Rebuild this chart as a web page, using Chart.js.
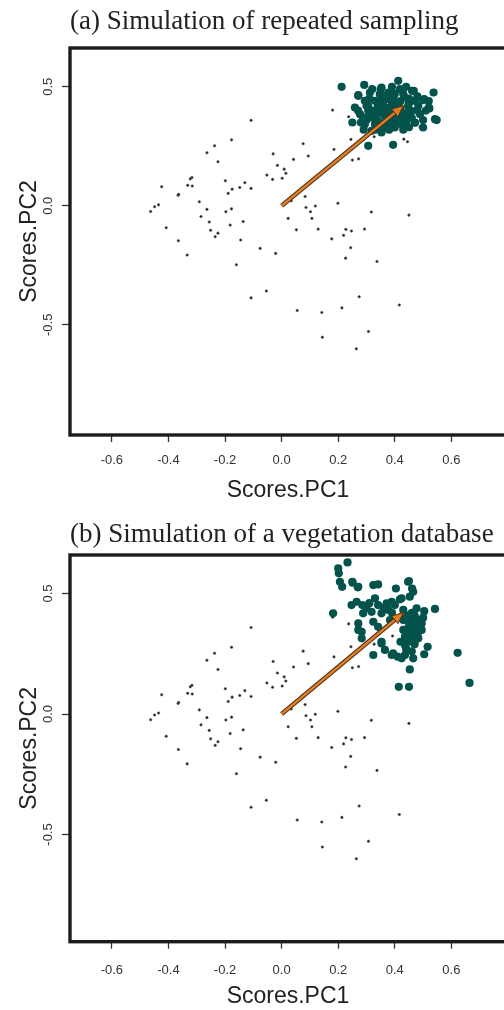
<!DOCTYPE html>
<html>
<head>
<meta charset="utf-8">
<script src="https://cdn.jsdelivr.net/npm/chart.js@4.4.1/dist/chart.umd.min.js"></script>
<style>
  html, body { margin: 0; padding: 0; background: #fff; overflow: hidden; }
  .panel { position: relative; width: 504px; height: 505px; overflow: hidden; }
  canvas { display: block; }
</style>
</head>
<body>
<div class="panel"><canvas id="chartA" width="506" height="505"></canvas></div>
<div class="panel"><canvas id="chartB" width="506" height="505"></canvas></div>
<script>
// titles and axis labels
const panelTitles = ["(a) Simulation of repeated sampling", "(b) Simulation of a vegetation database"];
const xTitle = "Scores.PC1";
const yTitle = "Scores.PC2";
const xTicks = [-0.6, -0.4, -0.2, 0.0, 0.2, 0.4, 0.6];
const yTicks = [-0.5, 0.0, 0.5];

// PCA scores of the plots (same in both panels)
const sitePoints = [
  [0.180,0.402],[-0.108,0.359],[-0.177,0.277],[-0.237,0.252],[-0.264,0.223],[-0.225,0.185],
  [-0.030,0.218],[0.076,0.261],[0.094,0.209],[0.042,0.195],[-0.015,0.170],[0.009,0.154],
  [0.015,0.137],[-0.052,0.129],[-0.032,0.111],[0.002,0.116],[0.245,0.279],[0.185,0.237],
  [0.250,0.192],[0.272,0.197],[0.237,0.374],[0.432,0.280],[0.445,0.269],[0.489,0.332],
  [-0.424,0.080],[-0.323,0.113],[-0.317,0.119],[-0.332,0.086],[-0.316,0.083],[-0.366,0.044],
  [-0.364,0.048],[-0.435,0.004],[-0.449,-0.004],[-0.463,-0.024],[-0.199,0.105],[-0.175,0.070],
  [-0.189,0.052],[-0.148,0.077],[-0.130,0.097],[-0.108,0.073],[-0.291,0.017],[-0.264,-0.015],
  [-0.285,-0.045],[-0.256,-0.068],[-0.251,-0.103],[-0.225,-0.115],[-0.235,-0.130],[-0.408,-0.092],
  [-0.365,-0.147],[-0.334,-0.207],[-0.197,-0.025],[-0.177,-0.013],[-0.182,-0.081],[-0.136,-0.066],
  [-0.145,-0.144],[-0.076,-0.179],[-0.021,-0.200],[0.034,0.021],[0.083,0.039],[0.086,-0.007],
  [0.119,-0.001],[0.102,-0.025],[0.023,-0.053],[0.052,-0.101],[0.107,-0.053],[0.129,-0.098],
  [0.199,0.011],[0.317,-0.026],[0.450,-0.039],[0.177,-0.139],[0.227,-0.099],[0.247,-0.106],
  [0.219,-0.124],[0.293,-0.098],[0.244,-0.176],[0.226,-0.220],[0.337,-0.234],[-0.160,-0.248],
  [-0.108,-0.387],[-0.054,-0.358],[0.055,-0.440],[0.142,-0.448],[0.144,-0.552],[0.213,-0.429],
  [0.274,-0.382],[0.307,-0.528],[0.264,-0.601],[0.416,-0.417],[0.392,0.324],[0.327,0.290]
];

// (a) simulated repeated samples
const clusterA = [
  [0.212,0.500],[0.292,0.508],[0.412,0.525],[0.461,0.483],[0.537,0.476],[0.542,0.364],
  [0.504,0.448],[0.520,0.413],[0.471,0.350],[0.500,0.329],[0.250,0.350],[0.306,0.252],
  [0.394,0.256],[0.271,0.462],[0.259,0.413],[0.277,0.385],[0.353,0.497],[0.377,0.476],
  [0.418,0.490],[0.436,0.455],[0.459,0.399],[0.483,0.420],[0.442,0.357],[0.400,0.329],
  [0.353,0.308],[0.318,0.315],[0.294,0.343],[0.306,0.420],[0.330,0.441],[0.341,0.399],
  [0.365,0.378],[0.389,0.413],[0.371,0.448],[0.400,0.441],[0.318,0.371],[0.288,0.371],
  [0.330,0.343],[0.377,0.343],[0.424,0.378],[0.347,0.469],[0.312,0.476],[0.294,0.441],
  [0.471,0.441],[0.489,0.385],[0.447,0.420],[0.424,0.343],[0.341,0.357],[0.306,0.399],
  [0.271,0.465],[0.467,0.483],[0.471,0.349],[0.522,0.409],[0.500,0.444],[0.548,0.360],
  [0.36,0.42],[0.38,0.39],[0.40,0.40],[0.42,0.41],[0.44,0.39],[0.40,0.37],[0.37,0.36],
  [0.34,0.42],[0.32,0.40],[0.35,0.44],[0.38,0.46],[0.42,0.44],[0.45,0.43],[0.43,0.47],
  [0.39,0.50],[0.33,0.37],[0.30,0.36],[0.36,0.33],[0.39,0.35],[0.46,0.37],[0.48,0.40],
  [0.43,0.32],[0.27,0.40],[0.31,0.45],[0.35,0.49],[0.40,0.47],[0.45,0.45],[0.51,0.40],
  [0.37,0.41],[0.41,0.36],[0.33,0.32],[0.29,0.32],[0.45,0.33],[0.32,0.49],[0.36,0.46],
  [0.41,0.42],[0.39,0.43],[0.43,0.38],[0.35,0.39],[0.31,0.38],[0.28,0.35],[0.50,0.36],
  [0.48,0.46],[0.44,0.50],[0.38,0.32],[0.34,0.34],[0.42,0.35],[0.52,0.44],[0.30,0.42]
];

// (b) simulated vegetation database
const clusterB = [
  [0.233,0.629],[0.200,0.605],[0.202,0.584],[0.206,0.549],[0.214,0.528],[0.250,0.549],
  [0.271,0.528],[0.324,0.535],[0.341,0.538],[0.404,0.521],[0.450,0.552],[0.461,0.521],
  [0.453,0.487],[0.424,0.480],[0.182,0.418],[0.247,0.452],[0.265,0.466],[0.285,0.452],
  [0.300,0.439],[0.330,0.480],[0.341,0.452],[0.318,0.424],[0.288,0.418],[0.371,0.459],
  [0.389,0.466],[0.400,0.452],[0.377,0.432],[0.353,0.418],[0.430,0.432],[0.477,0.439],
  [0.504,0.427],[0.542,0.436],[0.442,0.397],[0.471,0.390],[0.495,0.376],[0.453,0.369],
  [0.271,0.376],[0.324,0.383],[0.341,0.362],[0.383,0.390],[0.271,0.349],[0.283,0.314],
  [0.353,0.300],[0.365,0.266],[0.324,0.245],[0.389,0.245],[0.410,0.238],[0.436,0.245],
  [0.465,0.231],[0.453,0.185],[0.504,0.248],[0.516,0.279],[0.436,0.286],[0.436,0.321],
  [0.430,0.349],[0.483,0.314],[0.471,0.342],[0.495,0.349],[0.424,0.231],[0.622,0.254],
  [0.414,0.113],[0.450,0.113],[0.664,0.129],[0.447,0.549],[0.465,0.507],[0.418,0.476],
  [0.283,0.341],[0.394,0.252],[0.353,0.293],[0.251,0.545],[0.269,0.526],
  [0.44,0.41],[0.46,0.40],[0.47,0.37],[0.45,0.36],[0.48,0.36],[0.46,0.34],[0.44,0.35],
  [0.47,0.41],[0.49,0.39],[0.45,0.38],[0.43,0.39],[0.48,0.33],[0.46,0.32],[0.45,0.30],
  [0.47,0.29],[0.44,0.27],[0.46,0.26],[0.42,0.30],[0.48,0.38],[0.50,0.40],[0.46,0.42],
  [0.49,0.35],[0.47,0.31],[0.44,0.32],[0.36,0.44],[0.31,0.46],[0.39,0.42]
];

// arrow from the origin
const arrowStart = [0, 0];
const arrowEnd = [0.43, 0.42];

const sans = '"Liberation Sans", Arial, sans-serif';
const serif = '"Liberation Serif", "Times New Roman", serif';

const toXY = (arr) => arr.map(p => ({x: p[0], y: p[1]}));

// box around the plot region
const framePlugin = {
  id: 'frame',
  beforeDatasetsDraw(chart) {
    const {ctx, chartArea: a} = chart;
    ctx.save();
    ctx.lineWidth = 3.4;
    ctx.strokeStyle = '#1c1c1c';
    ctx.strokeRect(a.left, a.top, a.right - a.left, a.bottom - a.top);
    ctx.restore();
  }
};

// arrow head at the end of the vector
const arrowHeadPlugin = {
  id: 'arrowHead',
  afterDatasetsDraw(chart) {
    const {ctx, scales} = chart;
    const x0 = scales.x.getPixelForValue(arrowStart[0]);
    const y0 = scales.y.getPixelForValue(arrowStart[1]);
    const x1 = scales.x.getPixelForValue(arrowEnd[0]);
    const y1 = scales.y.getPixelForValue(arrowEnd[1]);
    const ang = Math.atan2(y1 - y0, x1 - x0);
    const len = 11, half = 5;
    const bx = x1 - len * Math.cos(ang), by = y1 - len * Math.sin(ang);
    ctx.save();
    ctx.beginPath();
    ctx.moveTo(x1, y1);
    ctx.lineTo(bx + half * Math.sin(ang), by - half * Math.cos(ang));
    ctx.lineTo(bx - half * Math.sin(ang), by + half * Math.cos(ang));
    ctx.closePath();
    ctx.fillStyle = '#e37c22';
    ctx.strokeStyle = '#4a3520';
    ctx.lineWidth = 1;
    ctx.fill();
    ctx.stroke();
    ctx.restore();
  }
};

function makePanel(id, title, cluster, o) {
  return new Chart(document.getElementById(id), {
    type: 'scatter',
    data: {
      datasets: [
        {
          data: toXY([arrowStart, arrowEnd]),
          showLine: true,
          borderColor: '#e37c22',
          borderWidth: 2.4,
          pointRadius: 0,
          order: 0
        },
        {
          data: toXY([arrowStart, arrowEnd]),
          showLine: true,
          borderColor: '#4a3520',
          borderWidth: 4.6,
          pointRadius: 0,
          order: 1
        },
        {
          data: toXY(cluster),
          backgroundColor: '#03534c',
          borderColor: '#03534c',
          borderWidth: 0,
          pointRadius: 4.1,
          order: 2
        },
        {
          data: toXY(sitePoints),
          backgroundColor: '#1a1a1a',
          borderColor: 'rgba(120,120,120,0.7)',
          borderWidth: 0.8,
          pointRadius: 1.3,
          order: 3
        }
      ]
    },
    options: {
      responsive: false,
      animation: false,
      layout: { padding: 0, autoPadding: false },
      plugins: {
        legend: { display: false },
        tooltip: { enabled: false },
        title: {
          display: true,
          text: title,
          align: 'start',
          fullSize: false,
          color: '#222',
          font: { family: serif, size: 27, weight: 'normal' },
          padding: { top: o.titleTop, bottom: o.titleBottom }
        }
      },
      scales: {
        x: {
          type: 'linear',
          min: -0.748,
          max: 0.793,
          afterBuildTicks: s => { s.ticks = xTicks.map(v => ({value: v})); },
          afterFit: s => { s.height = o.xAxisH; s.paddingLeft = 0; s.paddingRight = 0; },
          border: { display: false },
          grid: { drawOnChartArea: false, drawTicks: true, tickLength: 7, tickWidth: 1.3, tickColor: '#333' },
          ticks: {
            autoSkip: false,
            maxRotation: 0,
            padding: o.xTickPad,
            color: '#333',
            font: { family: sans, size: 13 },
            callback: v => v.toFixed(1)
          },
          title: {
            display: true,
            text: xTitle,
            color: '#222',
            font: { family: sans, size: 23 },
            padding: { top: 0, bottom: o.xTitlePad }
          }
        },
        y: {
          type: 'linear',
          min: o.yMin,
          max: o.yMax,
          afterBuildTicks: s => { s.ticks = yTicks.map(v => ({value: v})); },
          afterFit: s => { s.width = 70; s.paddingTop = 0; s.paddingBottom = 0; },
          border: { display: false },
          grid: { drawOnChartArea: false, drawTicks: true, tickLength: 8, tickWidth: 1.3, tickColor: '#333' },
          ticks: {
            minRotation: 90,
            maxRotation: 90,
            crossAlign: 'center',
            padding: 2.5,
            color: '#333',
            font: { family: sans, size: 13 },
            callback: v => v.toFixed(1)
          },
          title: {
            display: true,
            text: yTitle,
            color: '#222',
            font: { family: sans, size: 23 },
            padding: { top: 16, bottom: 0 }
          }
        }
      }
    },
    plugins: [framePlugin, arrowHeadPlugin]
  });
}

makePanel('chartA', panelTitles[0], clusterA,
  { yMin: -0.963, yMax: 0.663, titleTop: 5.8, titleBottom: 9.8, xAxisH: 70, xTickPad: 11, xTitlePad: 1 });
makePanel('chartB', panelTitles[1], clusterB,
  { yMin: -0.945, yMax: 0.66, titleTop: 13.8, titleBottom: 3.8, xAxisH: 68.3, xTickPad: 14, xTitlePad: 0 });
</script>
</body>
</html>
